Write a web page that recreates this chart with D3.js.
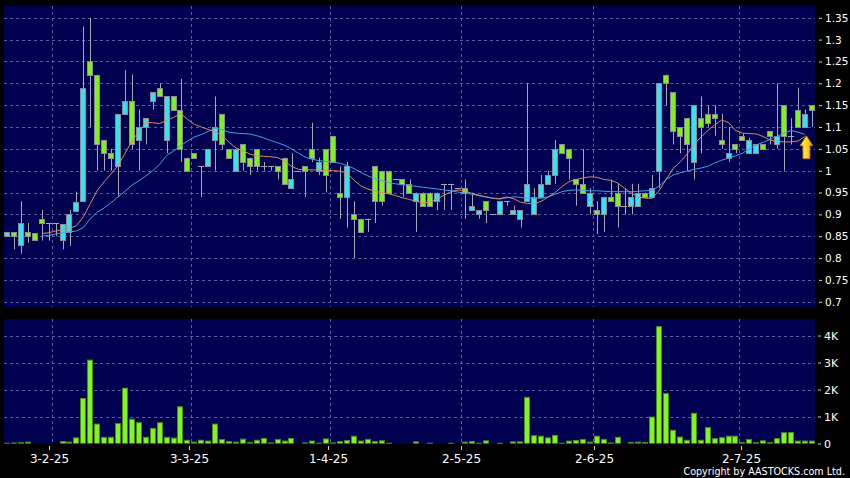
<!DOCTYPE html>
<html><head><meta charset="utf-8">
<script src="https://cdn.jsdelivr.net/npm/d3@7/dist/d3.min.js"></script>
<style>html,body{margin:0;padding:0;background:#000;}svg{display:block;}</style>
</head><body><svg id="c" width="850" height="478"></svg>
<script>
// ---------- DATA ----------
const opens  = [.85,.86,.83,.86,.857,.889,.88,.88,.841,.86,.908,.93,1.25,1.22,1.07,1.04,1.01,1.13,1.16,1.07,
 1.10,1.16,1.19,1.07,1.17,1.14,1.03,1.04,1.01,1.01,1.07,1.13,1.05,1.0,1.06,1.03,1.05,1.01,1.01,1.01,
 1.03,.96,1.0,1.01,1.05,1.0,1.05,1.08,.95,.94,.90,.89,.89,1.01,1.0,1.0,.98,.98,.97,.93,
 .95,.95,.93,.97,.97,.96,.96,.91,.90,.93,.90,.90,.93,.90,.89,.93,.90,.94,.97,.99,
 1.06,1.05,.98,.97,.92,.91,.90,.94,.95,.92,.92,.92,.95,.94,1.0,1.22,1.18,1.10,1.12,1.02,
 1.12,1.13,1.13,1.07,1.03,1.06,1.08,1.04,1.04,1.06,1.09,1.06,1.15,1.08,1.14,1.10,1.15];
const highs  = [.86,.86,.93,.88,.857,.91,.88,.88,.878,.91,.952,1.33,1.35,1.22,1.07,1.05,1.13,1.23,1.22,1.14,
 1.12,1.18,1.20,1.17,1.17,1.21,1.03,1.04,1.01,1.05,1.17,1.13,1.05,1.05,1.06,1.03,1.05,1.02,1.01,1.01,
 1.03,1.04,1.0,1.01,1.11,1.03,1.05,1.08,1.01,1.02,.93,.89,.89,1.01,1.0,1.0,.98,.98,.98,.95,
 .95,.95,.95,.97,.97,.96,.98,.95,.91,.93,.90,.93,.93,.92,.91,1.20,.96,.99,1.0,1.07,
 1.06,1.05,.98,1.05,.96,.93,.94,.98,.97,.96,.97,.97,.95,.99,1.20,1.22,1.18,1.10,1.12,1.15,
 1.17,1.15,1.15,1.13,1.10,1.06,1.085,1.075,1.06,1.06,1.09,1.20,1.15,1.12,1.19,1.14,1.15];
const lows   = [.85,.82,.81,.835,.841,.84,.84,.85,.82,.828,.908,.93,1.10,1.0,1.0,1.0,.94,1.13,1.05,1.0,
 1.06,1.14,1.17,1.04,1.14,1.02,1.0,1.03,.94,1.01,1.0,1.05,1.03,1.0,1.0,.99,1.0,1.0,1.0,.98,
 .97,.96,1.0,.94,1.02,.99,.95,1.02,.89,.87,.80,.86,.86,.88,.92,.95,.98,.94,.95,.86,
 .92,.92,.91,.91,.91,.96,.89,.91,.89,.88,.90,.90,.92,.90,.87,.93,.90,.94,.97,.97,
 1.04,.98,.92,.95,.90,.855,.86,.93,.87,.90,.90,.92,.94,.94,.96,1.15,1.06,1.04,1.0,.98,
 1.04,1.10,1.08,1.05,1.02,1.04,1.07,1.04,1.04,1.05,1.06,1.05,1.0,1.06,1.10,1.10,1.10];
const closes = [.86,.85,.88,.85,.841,.88,.88,.88,.878,.90,.929,1.19,1.22,1.06,1.04,1.03,1.13,1.16,1.06,1.10,
 1.12,1.18,1.17,1.17,1.14,1.05,1.0,1.03,1.01,1.05,1.10,1.06,1.03,1.05,1.02,1.01,1.01,1.01,1.01,1.0,
 .97,.98,1.0,1.0,1.03,1.02,.99,1.02,.94,1.01,.89,.86,.89,.93,.93,.95,.98,.97,.95,.95,
 .92,.92,.95,.97,.97,.96,.95,.92,.91,.91,.90,.93,.93,.91,.91,.97,.94,.97,.99,1.05,
 1.04,1.03,.97,.95,.95,.90,.94,.93,.92,.92,.94,.95,.94,.96,1.20,1.20,1.09,1.08,1.06,1.15,
 1.10,1.11,1.12,1.06,1.04,1.05,1.07,1.07,1.06,1.05,1.08,1.08,1.08,1.08,1.10,1.13,1.14];
const volumes = [10,20,30,50,0,0,0,0,70,50,210,1670,3090,720,230,230,740,2050,900,770,
 230,560,770,230,200,1360,120,50,120,90,720,150,70,50,160,40,120,190,20,150,
 90,190,0,20,90,10,170,20,70,110,270,90,150,70,100,10,0,0,0,60,
 0,10,0,0,10,0,50,70,10,100,0,10,0,60,60,1710,290,270,210,300,
 10,90,110,150,50,270,150,20,230,0,40,50,40,980,4330,1850,490,240,120,1120,
 120,590,180,220,270,270,40,150,30,100,30,180,400,410,90,90,90];
const maShort = [null,null,null,null,null,.856,.858,.862,.865,.868,.874,.895,.925,.955,.975,.993,1.012,1.04,1.068,1.09,
 1.11,1.11,1.108,1.115,1.122,1.131,1.118,1.106,1.10,1.094,1.089,1.08,1.065,1.052,1.045,1.038,1.034,1.033,1.032,1.03,
 1.022,1.01,1.003,1.002,1.002,1.001,1.0,1.0,.999,.995,.978,.965,.958,.953,.95,.947,.943,.938,.934,.93,
 .926,.928,.936,.944,.952,.956,.954,.948,.944,.94,.937,.936,.94,.936,.928,.925,.925,.93,.94,.95,
 .964,.975,.98,.983,.986,.985,.98,.978,.972,.96,.948,.94,.937,.937,.955,.98,1.005,1.02,1.038,1.06,
 1.077,1.092,1.105,1.116,1.11,1.092,1.086,1.085,1.084,1.078,1.07,1.067,1.066,1.066,1.068,1.078,null];
const maLong = [null,null,null,null,null,.85,.852,.855,.858,.86,.862,.87,.89,.905,.915,.927,.94,.953,.967,.977,
 .988,1.0,1.015,1.035,1.045,1.057,1.068,1.077,1.083,1.09,1.097,1.094,1.088,1.086,1.085,1.084,1.08,1.075,1.069,1.064,
 1.058,1.05,1.04,1.031,1.026,1.023,1.021,1.02,1.017,1.012,1.005,.996,.988,.982,.977,.973,.97,.968,.966,.964,
 .962,.96,.958,.956,.954,.951,.949,.946,.943,.94,.937,.935,.938,.94,.939,.937,.937,.937,.94,.946,
 .952,.955,.956,.955,.954,.954,.953,.952,.952,.952,.952,.953,.954,.955,.965,.98,.99,.995,.999,1.003,
 1.006,1.01,1.018,1.024,1.029,1.034,1.04,1.05,1.059,1.065,1.072,1.079,1.086,1.092,1.088,1.083,null];
const dateLabels = ["3-2-25","3-3-25","1-4-25","2-5-25","2-6-25","2-7-25"];
const dateIdx = [7,27,47,66,85,106];
const priceTicks = [0.7,0.75,0.8,0.85,0.9,0.95,1.0,1.05,1.1,1.15,1.2,1.25,1.3,1.35];
const volTicks = [0,1000,2000,3000,4000];
const arrowIdx = 115, arrowPrice = 1.08;

// ---------- LAYOUT ----------
const svg = d3.select("#c");
const NAVY = "#000050", GRID = "#5a5a9c", UP = "#33e3f0", DOWN = "#7ef21a";
const FONT = "'DejaVu Sans', Verdana, sans-serif";
const P = {l:4, r:815, t:6, b:307}, V = {t:319, b:443.5};

svg.append("rect").attr("width",850).attr("height",478).attr("fill","#000");
const idx = d3.range(opens.length);
const x = d3.scaleBand().domain(idx).range([P.l,P.r]).paddingInner(0.1).paddingOuter(0);
const xLab = d3.scaleBand().domain(idx).range([-0.2, 817.6]);
const y = d3.scaleLinear().domain([0.688,1.377]).range([P.b,P.t]);
const yv = d3.scaleLinear().domain([0,4612]).range([V.b,V.t]);
const bw = x.bandwidth();
const cx = i => Math.round(x(i) + bw/2) + 0.5;

svg.append("rect").attr("x",P.l).attr("y",P.t).attr("width",P.r-P.l).attr("height",P.b-P.t).attr("fill",NAVY);
svg.append("rect").attr("x",P.l).attr("y",V.t).attr("width",P.r-P.l).attr("height",V.b-V.t).attr("fill",NAVY);

const defs = svg.append("defs");
defs.append("clipPath").attr("id","cp").append("rect").attr("x",P.l).attr("y",P.t).attr("width",P.r-P.l).attr("height",P.b-P.t);
defs.append("clipPath").attr("id","cv").append("rect").attr("x",P.l).attr("y",V.t).attr("width",P.r-P.l).attr("height",V.b-V.t);
const grad = defs.append("linearGradient").attr("id","ag").attr("x1",0).attr("x2",1).attr("y1",0).attr("y2",0);
grad.append("stop").attr("offset","0%").attr("stop-color","#fff27a");
grad.append("stop").attr("offset","55%").attr("stop-color","#ffd21e");
grad.append("stop").attr("offset","100%").attr("stop-color","#d99a00");

// grids
const g = svg.append("g").attr("stroke",GRID).attr("stroke-dasharray","3,3").attr("stroke-width",1);
priceTicks.forEach(p => { const yy = Math.round(y(p))+0.5;
  g.append("line").attr("x1",P.l).attr("x2",P.r).attr("y1",yy).attr("y2",yy); });
volTicks.slice(1).forEach(v => { const yy = Math.round(yv(v))+0.5;
  g.append("line").attr("x1",P.l).attr("x2",P.r).attr("y1",yy).attr("y2",yy); });
dateIdx.forEach(i => { const xx = Math.round(x(i)-0.5)+0.5;
  g.append("line").attr("x1",xx).attr("x2",xx).attr("y1",P.t).attr("y2",P.b);
  g.append("line").attr("x1",xx).attr("x2",xx).attr("y1",V.t).attr("y2",V.b); });

// candles
const cg = svg.append("g").attr("clip-path","url(#cp)");
idx.forEach(i => {
  const o=opens[i], c=closes[i], h=highs[i], l=lows[i];
  cg.append("line").attr("x1",cx(i)).attr("x2",cx(i)).attr("y1",y(h)).attr("y2",y(l))
    .attr("stroke","#a8a8b0").attr("stroke-width",1);
  const top = Math.round(y(Math.max(o,c))), bot = Math.round(y(Math.min(o,c)));
  const bx = Math.round(x(i))+0.5, bwid = Math.round(bw)-1;
  if (bot - top < 1) {
    cg.append("line").attr("x1",bx-0.5).attr("x2",bx+bwid+0.5).attr("y1",top+0.5).attr("y2",top+0.5)
      .attr("stroke","#a8a8b0");
  } else {
    cg.append("rect").attr("x",bx).attr("y",top+0.5).attr("width",bwid).attr("height",bot-top)
      .attr("fill", c>=o ? UP : DOWN).attr("stroke","#8c8c94").attr("stroke-width",1);
  }
});

// moving averages
const lineGen = arr => d3.line().defined(i => arr[i]!=null).x(i => x(i)+bw/2).y(i => y(arr[i]))(idx);
cg.append("path").attr("d",lineGen(maLong)).attr("fill","none").attr("stroke","#3ea2e6").attr("stroke-width",1);
cg.append("path").attr("d",lineGen(maShort)).attr("fill","none").attr("stroke","#d98e62").attr("stroke-width",1);

// arrow marker
const ax = x(arrowIdx)+bw/2+1.5, ay = y(arrowPrice);
const arrowPts = [[0,0],[6.5,10],[3.5,10],[3.5,23],[-3.5,23],[-3.5,10],[-6.5,10]];
svg.append("polygon").attr("points", arrowPts.map(p => [ax+p[0], ay+p[1]].join(",")).join(" "))
  .attr("fill","url(#ag)").attr("stroke","#b07800").attr("stroke-width",0.8);

// volume bars
const vg = svg.append("g").attr("clip-path","url(#cv)");
idx.forEach(i => {
  if (!volumes[i]) return;
  const top = yv(volumes[i]);
  vg.append("rect").attr("x",Math.round(x(i))+0.5).attr("y",top).attr("width",Math.round(bw)-1)
    .attr("height",Math.max(0.8, V.b-top)).attr("fill","#7ff523").attr("stroke","#4c8a1c").attr("stroke-width",1);
});

// axes
const styleAxis = (sel, fs) => {
  sel.select(".domain").remove();
  sel.selectAll(".tick line").attr("stroke","#d0d0d0");
  sel.selectAll(".tick text").attr("fill","#ffffff").style("font-family",FONT).style("font-size",fs);
};
svg.append("g").attr("transform","translate(819,0)")
  .call(d3.axisRight(y).tickValues(priceTicks).tickSize(3).tickPadding(3).tickFormat(d => String(+d.toFixed(2))))
  .call(s => styleAxis(s,"10.5px"));
svg.append("g").attr("transform","translate(818,0)")
  .call(d3.axisRight(yv).tickValues(volTicks).tickSize(3).tickPadding(3).tickFormat(d => d===0 ? "0" : (d/1000)+"K"))
  .call(s => styleAxis(s,"11px"));
svg.append("g").attr("transform","translate(0,446)")
  .call(d3.axisBottom(xLab).tickValues(dateIdx).tickSize(4).tickPadding(4).tickFormat((d,k) => dateLabels[k]))
  .call(s => { s.selectAll(".tick").attr("transform", d => `translate(${Math.round(xLab(d))+0.5},0)`); styleAxis(s,"12px"); });

svg.append("text").attr("x",845).attr("y",475).attr("text-anchor","end").attr("fill","#fff")
  .style("font-family",FONT).style("font-size","9.6px").text("Copyright by AASTOCKS.com Ltd.");
</script></body></html>
